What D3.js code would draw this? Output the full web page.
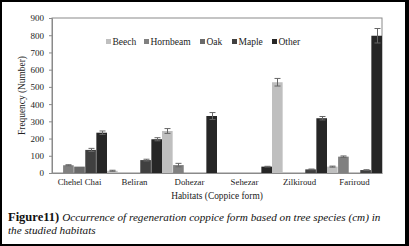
<!DOCTYPE html>
<html>
<head>
<meta charset="utf-8">
<script src="https://cdn.jsdelivr.net/npm/d3@7"></script>
<style>
  html, body { margin: 0; padding: 0; background: #fff; }
</style>
</head>
<body>
<div id="chart"></div>
<script>
const habitats = ['Chehel Chai', 'Beliran', 'Dohezar', 'Sehezar', 'Zilkiroud', 'Fariroud'];
const species = ['Beech', 'Hornbeam', 'Oak', 'Maple', 'Other'];
const speciesColors = ['#bfbfbf', '#808080', '#6a6a6a', '#404040', '#262626'];

// frequency per species, one value per habitat
const beech    = [0, 13, 244, 0, 527, 37];
const hornbeam = [45, 0, 46, 0, 0, 95];
const oak      = [37, 0, 0, 0, 0, 0];
const maple    = [134, 75, 0, 0, 21, 17];
const other    = [234, 196, 331, 37, 318, 797];

// standard error bars
const beechErr    = [0, 3, 14, 0, 22, 3];
const hornbeamErr = [3, 0, 10, 0, 0, 4];
const oakErr      = [0, 0, 0, 0, 0, 0];
const mapleErr    = [9, 5, 0, 0, 2, 2];
const otherErr    = [10, 9, 20, 2, 10, 42];

const yTicks = [0, 100, 200, 300, 400, 500, 600, 700, 800, 900];

const values = [beech, hornbeam, oak, maple, other];
const errors = [beechErr, hornbeamErr, oakErr, mapleErr, otherErr];

const FONT = "'Liberation Serif', 'Times New Roman', Times, serif";
const W = 409, H = 246;
const plot = { left: 52, right: 382, top: 18, bottom: 173 };

const svg = d3.select('#chart').append('svg')
    .attr('width', W)
    .attr('height', H)
    .style('font-family', FONT);

svg.append('rect').attr('width', W).attr('height', H).attr('fill', '#fff');

const x0 = d3.scaleBand().domain(habitats).range([plot.left, plot.right]).padding(0);
const x1 = d3.scaleBand().domain(species).range([0, x0.bandwidth()]).paddingInner(0.04);
const y = d3.scaleLinear().domain([0, 900]).range([plot.bottom, plot.top]);

// plot frame
svg.append('rect')
    .attr('x', plot.left).attr('y', plot.top)
    .attr('width', plot.right - plot.left).attr('height', plot.bottom - plot.top)
    .attr('fill', 'none').attr('stroke', '#8a8a8a').attr('stroke-width', 1);

// y axis
const yAxis = svg.append('g')
    .attr('transform', `translate(${plot.left},0)`)
    .call(d3.axisLeft(y).tickValues(yTicks).tickSize(3).tickPadding(5))
    .attr('font-family', FONT);
yAxis.select('.domain').attr('stroke', '#8a8a8a');
yAxis.selectAll('.tick line').attr('stroke', '#8a8a8a');
yAxis.selectAll('text').style('font-size', '9px').style('font-family', FONT).attr('fill', '#222');

// x axis
const xAxis = svg.append('g')
    .attr('transform', `translate(0,${plot.bottom})`)
    .call(d3.axisBottom(x0).tickSize(0).tickPadding(6))
    .attr('font-family', FONT);
xAxis.select('.domain').attr('stroke', '#8a8a8a');
xAxis.selectAll('text').style('font-size', '8.8px').style('font-family', FONT).attr('fill', '#222');

// bars
const rows = [];
species.forEach((s, si) => {
    habitats.forEach((h, hi) => {
        rows.push({ s, si, h, v: values[si][hi], e: errors[si][hi] });
    });
});

svg.append('g').selectAll('rect')
    .data(rows.filter(d => d.v > 0))
    .enter().append('rect')
    .attr('x', d => x0(d.h) + x1(d.s))
    .attr('y', d => y(d.v))
    .attr('width', x1.bandwidth())
    .attr('height', d => y(0) - y(d.v))
    .attr('fill', d => speciesColors[d.si]);

// error bars
const eb = svg.append('g').attr('stroke', '#666').attr('stroke-width', 1);
rows.filter(d => d.v > 0 && d.e > 0).forEach(d => {
    const cx = Math.round(x0(d.h) + x1(d.s) + x1.bandwidth() / 2) + 0.5;
    const yTop = y(d.v + d.e), yBot = y(d.v - d.e);
    eb.append('line').attr('x1', cx).attr('x2', cx).attr('y1', yTop).attr('y2', yBot);
    eb.append('line').attr('x1', cx - 3).attr('x2', cx + 3).attr('y1', yTop).attr('y2', yTop);
    eb.append('line').attr('x1', cx - 3).attr('x2', cx + 3).attr('y1', yBot).attr('y2', yBot);
});

// legend
const legendX = [106, 144, 200, 232, 272];
const legend = svg.append('g').selectAll('g')
    .data(species)
    .enter().append('g')
    .attr('transform', (d, i) => `translate(${legendX[i]},42)`);
legend.append('rect').attr('x', 0).attr('y', -3).attr('width', 5).attr('height', 5)
    .attr('fill', (d, i) => speciesColors[i]);
legend.append('text').attr('x', 6.5).attr('y', 3)
    .style('font-size', '9.5px').attr('fill', '#222').text(d => d);

// axis titles
svg.append('text')
    .attr('x', 217).attr('y', 199)
    .attr('text-anchor', 'middle').style('font-size', '9.4px').attr('fill', '#222')
    .text('Habitats (Coppice form)');
svg.append('text')
    .attr('transform', `translate(25,${(plot.top + plot.bottom) / 2}) rotate(-90)`)
    .attr('text-anchor', 'middle').style('font-size', '9.4px').attr('fill', '#222')
    .text('Frequency (Number)');

// caption
const cap = svg.append('text').attr('x', 8).attr('y', 221).attr('fill', '#111');
cap.append('tspan').style('font-weight', 'bold').style('font-size', '12.5px').text('Figure11) ');
cap.append('tspan').style('font-style', 'italic').style('font-size', '11.2px')
    .text('Occurrence of regeneration coppice form based on tree species (cm) in');
svg.append('text').attr('x', 8).attr('y', 234).style('font-size', '11.2px').style('font-style', 'italic')
    .attr('fill', '#111').text('the studied habitats');

// outer border
svg.append('rect').attr('x', 1).attr('y', 1).attr('width', W - 2).attr('height', H - 2)
    .attr('fill', 'none').attr('stroke', '#000').attr('stroke-width', 2);
svg.append('rect').attr('x', 405).attr('y', 0).attr('width', 4).attr('height', H).attr('fill', '#000');
</script>
</body>
</html>
